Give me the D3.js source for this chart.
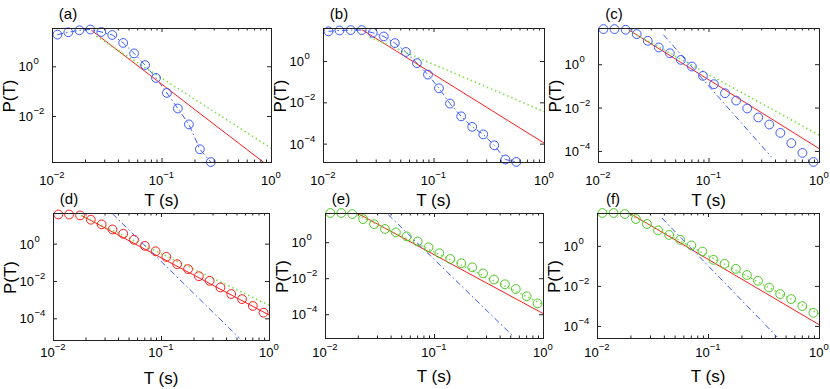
<!DOCTYPE html>
<html lang="en">
<head>
<meta charset="UTF-8">
<title>P(T) panels</title>
<script src="https://d3js.org/d3.v7.min.js"></script>
<style>
  body { margin: 0; background: #fff; }
  svg text { font-family: "Liberation Sans", Arial, sans-serif; fill: #000; }
</style>
</head>
<body>
<svg id="fig" width="830" height="389"></svg>
<script>
// bin centres (s), shared by every panel
const T_BINS = [0.0112, 0.0141, 0.0178, 0.0224, 0.0282, 0.0355, 0.0447, 0.0562, 0.0708, 0.0891,
                0.112, 0.141, 0.178, 0.224, 0.282, 0.355, 0.447, 0.562, 0.708, 0.891];

// measured P(T), one array per panel
const P_A = [18.8, 23.4, 28.2, 30.2, 24.0, 18.2, 8.7, 3.3, 1.12, 0.34, 0.085, 0.020, 0.0046, 4.6e-4, 1.4e-4];
const P_B = [27.5, 30.2, 31.6, 31.6, 23.4, 15.5, 7.4, 2.75, 0.79, 0.22, 0.048, 0.0087, 0.0021, 6.5e-4, 2.8e-4, 8.3e-5, 1.7e-5, 1.3e-5];
const P_C = [41.7, 41.7, 38.9, 24.5, 12.0, 5.9, 3.2, 1.58, 0.78, 0.29, 0.12, 0.046, 0.021, 0.0091, 0.0035, 0.00166, 6.8e-4, 2.3e-4, 8.1e-5, 3.1e-5];
const P_D = [36.3, 36.3, 32.4, 19.1, 10.7, 5.75, 3.39, 1.62, 0.76, 0.39, 0.195, 0.079, 0.043, 0.018, 0.0102, 0.0045, 0.0020, 0.00107, 4.6e-4, 2.0e-4];
const P_E = [41.7, 41.7, 36.3, 19.1, 10.0, 5.4, 3.5, 2.1, 1.1, 0.52, 0.245, 0.117, 0.068, 0.040, 0.0186, 0.0085, 0.0046, 0.0025, 0.0010, 4.0e-4];
const P_F = [43.7, 43.7, 38.9, 21.9, 12.3, 5.9, 3.5, 2.0, 1.05, 0.52, 0.2, 0.126, 0.071, 0.035, 0.018, 0.0083, 0.0039, 0.0022, 9.8e-4, 4.5e-4];

// power-law fits as [T, P] end points, panels a..f
const RED_FITS = [
  [[0.0229, 28.2], [1, 8.1e-5]],
  [[0.0225, 33.1], [1, 1.07e-4]],
  [[0.0189, 38.9], [1, 1.29e-4]],
  [[0.0183, 32.4], [1, 1.51e-4]],
  [[0.0202, 38.0], [1, 1.1e-4]],
  [[0.0200, 40.7], [1, 1.17e-4]]
];
const GREEN_FITS = [
  [[0.0254, 16.2], [1, 5.1e-4]],
  [[0.0264, 14.5], [1, 3.6e-3]],
  [[0.0190, 35.5], [1, 5.4e-4]],
  [[0.0183, 32.4], [1, 5.1e-4]],
  [[0.0200, 31.6], [1, 3.5e-4]],
  [[0.0200, 35.0], [1, 4.0e-4]]
];
const BLUE_FITS = [
  null,
  null,
  [[0.0391, 22.9], [0.372, 5.2e-5]],
  [[0.0355, 39.8], [0.535, 8.5e-6]],
  [[0.0380, 33.9], [0.542, 5.4e-6]],
  [[0.0384, 24.5], [0.420, 2.8e-5]]
];

const X_TICKS = [0.01, 0.1, 1];
const Y_TICKS_A = [0.01, 1];
const Y_TICKS = [1e-4, 0.01, 1];
const PANEL_LABELS = ["(a)", "(b)", "(c)", "(d)", "(e)", "(f)"];

const BLUE = "#3b5bff", RED = "#ff1c1c", GREEN = "#4cc823", LIGHT_GREEN = "#72e03a";

// layout: box in pixels, y limits, style of the data series
const panels = [
  { box: [52, 271, 28, 162],  yDom: [1.41e-4, 34.7], yTicks: Y_TICKS_A, data: P_A, color: BLUE, connect: true,  tickOff: 23 },
  { box: [323, 544, 28, 162], yDom: [1.29e-5, 39.8], yTicks: Y_TICKS,   data: P_B, color: BLUE, connect: true,  tickOff: 23 },
  { box: [598, 819, 28, 162], yDom: [3.09e-5, 46.8], yTicks: Y_TICKS,   data: P_C, color: BLUE, connect: false, tickOff: 23 },
  { box: [53, 269, 213, 340], yDom: [6.9e-6, 43.7],  yTicks: Y_TICKS,   data: P_D, color: RED,  connect: false, tickOff: 17 },
  { box: [325, 543, 213, 338], yDom: [4.8e-6, 41.7], yTicks: Y_TICKS,   data: P_E, color: GREEN, connect: false, tickOff: 19 },
  { box: [597, 819, 213, 338], yDom: [2.5e-5, 43.7], yTicks: Y_TICKS,   data: P_F, color: GREEN, connect: false, tickOff: 19 }
];

const svg = d3.select("#fig");
const defs = svg.append("defs");

function expText(v) {
  const e = Math.round(Math.log10(v));
  return e < 0 ? "\u2212" + (-e) : String(e);
}

panels.forEach((p, i) => {
  const [x0, x1, y0, y1] = p.box;
  const x = d3.scaleLog().domain([0.01, 1]).range([x0, x1]);
  const y = d3.scaleLog().domain(p.yDom).range([y1, y0]);
  const g = svg.append("g");

  const clipId = "clip" + i;
  defs.append("clipPath").attr("id", clipId)
    .append("rect").attr("x", x0).attr("y", y0).attr("width", x1 - x0).attr("height", y1 - y0);

  const line = d3.line().x(d => x(d[0])).y(d => y(d[1]));
  const pts = p.data.map((v, k) => [T_BINS[k], v]).filter(d => d[1] >= p.yDom[0] * 0.98);

  const plot = g.append("g").attr("clip-path", `url(#${clipId})`);

  if (p.connect) {
    plot.append("path").datum(pts).attr("d", line)
      .attr("fill", "none").attr("stroke", BLUE).attr("stroke-width", 1)
      .attr("stroke-dasharray", "6 3 1.5 3");
  }

  // markers are not clipped, like matlab
  g.selectAll("circle").data(pts).join("circle")
    .attr("cx", d => x(d[0])).attr("cy", d => y(d[1])).attr("r", 4.4)
    .attr("fill", "none").attr("stroke", p.color).attr("stroke-width", 1);

  plot.append("path").datum(RED_FITS[i]).attr("d", line)
    .attr("fill", "none").attr("stroke", RED).attr("stroke-width", 1);

  plot.append("path").datum(GREEN_FITS[i]).attr("d", line)
    .attr("fill", "none").attr("stroke", LIGHT_GREEN).attr("stroke-width", 1.6)
    .attr("stroke-dasharray", "1.4 3");

  if (BLUE_FITS[i]) {
    plot.append("path").datum(BLUE_FITS[i]).attr("d", line)
      .attr("fill", "none").attr("stroke", BLUE).attr("stroke-width", 1)
      .attr("stroke-dasharray", "6 3 1.5 3");
  }

  // frame and inward ticks
  const minor = x.ticks().filter(v => !X_TICKS.some(t => Math.abs(t - v) < 1e-9));
  const tickStyle = a => a.call(s => s.select(".domain").remove())
    .call(s => s.selectAll("line").attr("stroke", "#222"))
    .call(s => s.selectAll("text").remove());

  g.append("g").attr("transform", `translate(0,${y1})`)
    .call(d3.axisBottom(x).tickValues(X_TICKS).tickSize(-4).tickFormat("")).call(tickStyle);
  g.append("g").attr("transform", `translate(0,${y1})`)
    .call(d3.axisBottom(x).tickValues(minor).tickSize(-2.5).tickFormat("")).call(tickStyle);
  g.append("g").attr("transform", `translate(0,${y0})`)
    .call(d3.axisTop(x).tickValues(X_TICKS).tickSize(-4).tickFormat("")).call(tickStyle);
  g.append("g").attr("transform", `translate(0,${y0})`)
    .call(d3.axisTop(x).tickValues(minor).tickSize(-2.5).tickFormat("")).call(tickStyle);
  g.append("g").attr("transform", `translate(${x0},0)`)
    .call(d3.axisLeft(y).tickValues(p.yTicks).tickSize(-4).tickFormat("")).call(tickStyle);
  g.append("g").attr("transform", `translate(${x1},0)`)
    .call(d3.axisRight(y).tickValues(p.yTicks).tickSize(-4).tickFormat("")).call(tickStyle);

  g.append("rect").attr("x", x0 + 0.5).attr("y", y0 + 0.5)
    .attr("width", x1 - x0).attr("height", y1 - y0)
    .attr("fill", "none").attr("stroke", "#222").attr("stroke-width", 1);

  // x tick labels
  X_TICKS.forEach(v => {
    const t = g.append("text").attr("x", x(v)).attr("y", y1 + p.tickOff)
      .attr("text-anchor", "middle").attr("font-size", 13);
    t.append("tspan").text("10");
    t.append("tspan").attr("dy", -7).attr("font-size", 9.5).text(expText(v));
  });

  // y tick labels: base right aligned, exponent hanging
  p.yTicks.forEach(v => {
    const ty = y(v) + 5;
    g.append("text").attr("x", x0 - 19).attr("y", ty)
      .attr("text-anchor", "end").attr("font-size", 13).text("10");
    g.append("text").attr("x", x0 - 18.5).attr("y", ty - 7)
      .attr("font-size", 9.5).text(expText(v));
  });

  g.append("text").attr("x", x0 + 16).attr("y", y0 - 9)
    .attr("text-anchor", "middle").attr("font-size", 15).text(PANEL_LABELS[i]);

  g.append("text").attr("x", (x0 + x1) / 2).attr("y", y1 + 43.5)
    .attr("text-anchor", "middle").attr("font-size", 17).text("T (s)");

  g.append("text")
    .attr("transform", `translate(${x0 - 37},${(y0 + y1) / 2 + 1}) rotate(-90)`)
    .attr("text-anchor", "middle").attr("font-size", 17).text("P(T)");
});
</script>
</body>
</html>
